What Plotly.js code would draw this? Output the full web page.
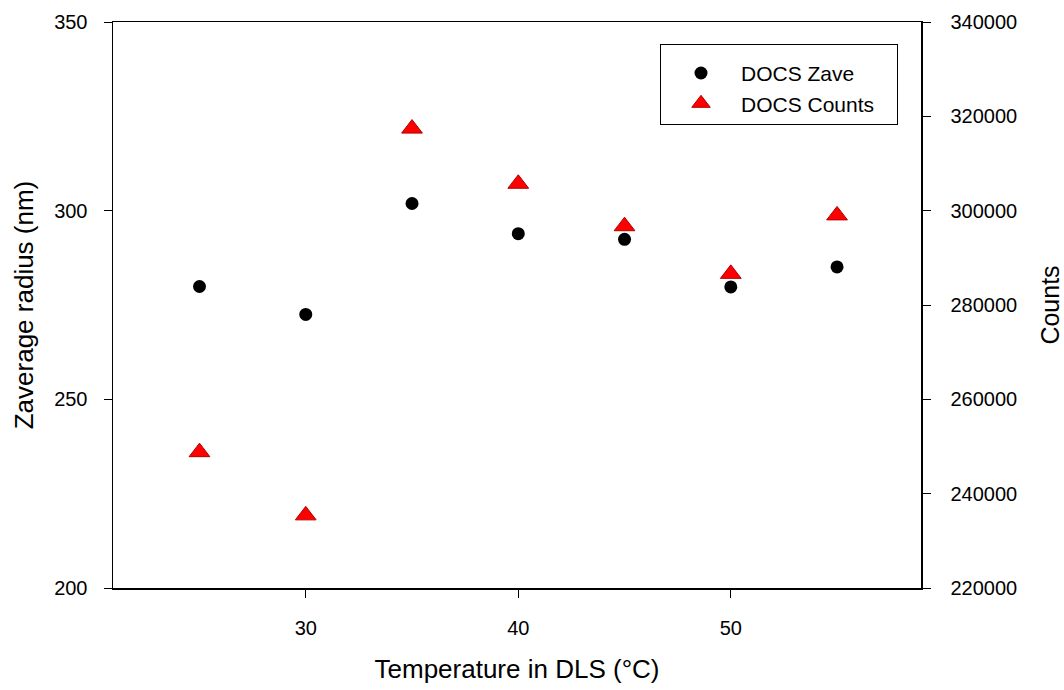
<!DOCTYPE html>
<html>
<head>
<meta charset="utf-8">
<script src="https://cdn.plot.ly/plotly-3.0.1.min.js"></script>
<style>html,body{margin:0;padding:0;background:#fff;}#chart{width:1064px;height:690px;}</style>
</head>
<body>
<div id="chart"></div>
<script>
var temperature = [25, 30, 35, 40, 45, 50, 55];
var zaveRadius = [279.9, 272.5, 301.9, 293.9, 292.4, 279.8, 285.1];
var counts = [248800, 235400, 317400, 305700, 296700, 286600, 299000];
var xTicks = [30, 40, 50];
var yTicks = [200, 250, 300, 350];
var y2Ticks = [220000, 240000, 260000, 280000, 300000, 320000, 340000];

var font = "Liberation Sans, Arial, sans-serif";

var traces = [
  {
    x: temperature, y: zaveRadius, name: "DOCS Zave",
    type: "scatter", mode: "markers", yaxis: "y",
    marker: {symbol: "circle", size: 13, color: "#000000"}
  },
  {
    x: temperature, y: counts, name: "DOCS Counts\u00a0\u00a0\u00a0",
    type: "scatter", mode: "markers", yaxis: "y2",
    marker: {symbol: "triangle-up", size: 18, color: "#ff0000", line: {color: "#b00000", width: 1}}
  }
];

var layout = {
  width: 1064, height: 690,
  paper_bgcolor: "#ffffff", plot_bgcolor: "#ffffff",
  margin: {l: 113, r: 143, t: 22, b: 102},
  font: {family: font, color: "#000", size: 20},
  showlegend: true,
  legend: {
    x: 0.677, y: 0.961, xanchor: "left", yanchor: "top",
    bordercolor: "#000", borderwidth: 1, bgcolor: "#fff",
    font: {family: font, size: 21, color: "#000"},
    title: {text: " ", font: {family: font, size: 6}},
    itemwidth: 70
  },
  xaxis: {
    range: [20.93, 58.95],
    tickvals: xTicks, ticktext: xTicks.map(String),
    ticks: "outside", ticklen: 8, tickwidth: 1, tickcolor: "#000",
    showline: true, linecolor: "#000", linewidth: 1.5, mirror: true,
    showgrid: false, zeroline: false,
    ticklabelstandoff: 13,
    tickfont: {family: font, size: 20},
    title: {text: "Temperature in DLS (°C)", font: {family: font, size: 26}, standoff: 22}
  },
  yaxis: {
    range: [200, 350],
    tickvals: yTicks, ticktext: yTicks.map(String),
    ticks: "outside", ticklen: 8, tickwidth: 1, tickcolor: "#000",
    showline: true, linecolor: "#000", linewidth: 1.5,
    showgrid: false, zeroline: false,
    ticklabelstandoff: 12,
    tickfont: {family: font, size: 20},
    title: {text: "Zaverage radius (nm)", font: {family: font, size: 26}, standoff: 13}
  },
  yaxis2: {
    range: [220000, 340000],
    overlaying: "y", side: "right",
    tickvals: y2Ticks, ticktext: y2Ticks.map(String),
    ticks: "outside", ticklen: 8, tickwidth: 1, tickcolor: "#000",
    showline: true, linecolor: "#000", linewidth: 1.5,
    showgrid: false, zeroline: false,
    ticklabelstandoff: 16,
    tickfont: {family: font, size: 20},
    title: {text: "Counts", font: {family: font, size: 25}, standoff: 27}
  }
};

Plotly.newPlot("chart", traces, layout, {displayModeBar: false, staticPlot: true});
</script>
</body>
</html>
